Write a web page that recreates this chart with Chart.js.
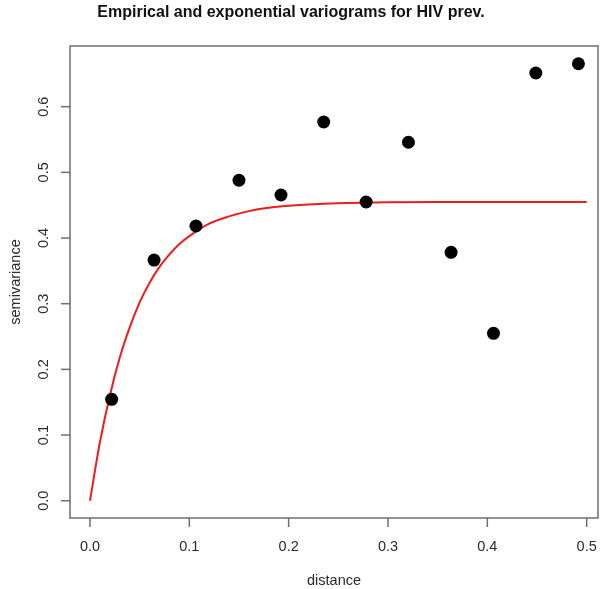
<!DOCTYPE html>
<html>
<head>
<meta charset="utf-8">
<script src="https://cdn.jsdelivr.net/npm/chart.js@4.4.0/dist/chart.umd.min.js"></script>
<style>
  html, body { margin: 0; padding: 0; background: #fff; }
  #wrap { width: 600px; height: 589px; }
</style>
</head>
<body>
<div id="wrap"><canvas id="chart" width="600" height="589"></canvas></div>
<script>
// empirical variogram (bin centres and semivariance)
const distances = [0.0218, 0.0645, 0.1067, 0.150, 0.1923, 0.2353, 0.278, 0.3206, 0.3635, 0.4062, 0.4488, 0.4917];
const semivariance = [0.1544, 0.3665, 0.4183, 0.488, 0.4655, 0.5767, 0.4549, 0.5458, 0.3782, 0.2549, 0.6513, 0.6654];

// fitted exponential model, sampled along the red curve
const modelDistance = [0, 0.01, 0.02, 0.03, 0.04, 0.05, 0.06, 0.07, 0.08, 0.09, 0.10, 0.12, 0.14, 0.16, 0.18, 0.20, 0.23, 0.26, 0.30, 0.35, 0.40, 0.50];
const modelGamma = [0, 0.089, 0.160, 0.218, 0.264, 0.302, 0.332, 0.356, 0.375, 0.391, 0.403, 0.422, 0.433, 0.441, 0.446, 0.449, 0.452, 0.4535, 0.4546, 0.455, 0.455, 0.455];

const xTicks = [0, 0.1, 0.2, 0.3, 0.4, 0.5];
const yTicks = [0, 0.1, 0.2, 0.3, 0.4, 0.5, 0.6];

const titleText = "Empirical and exponential variograms for HIV prev.";
const xTitle = "distance";
const yTitle = "semivariance";

const FONT = "'Liberation Sans', Arial, Helvetica, sans-serif";

// R-style box, ticks and labels
const rAxes = {
  id: "rAxes",
  afterDraw(chart) {
    const ctx = chart.ctx;
    const a = chart.chartArea;
    const xs = chart.scales.x;
    const ys = chart.scales.y;
    ctx.save();
    ctx.strokeStyle = "#6e6e6e";
    ctx.lineWidth = 1.5;
    ctx.strokeRect(a.left, a.top, a.right - a.left, a.bottom - a.top);

    ctx.fillStyle = "#2a2a2a";
    ctx.font = "14.5px " + FONT;
    ctx.textAlign = "center";
    ctx.textBaseline = "middle";
    xTicks.forEach((t) => {
      const px = xs.getPixelForValue(t);
      ctx.beginPath();
      ctx.moveTo(px, a.bottom);
      ctx.lineTo(px, a.bottom + 9);
      ctx.stroke();
      ctx.fillText(t.toFixed(1), px, 547);
    });
    yTicks.forEach((t) => {
      const py = ys.getPixelForValue(t);
      ctx.beginPath();
      ctx.moveTo(a.left, py);
      ctx.lineTo(a.left - 9, py);
      ctx.stroke();
      ctx.save();
      ctx.translate(44, py);
      ctx.rotate(-Math.PI / 2);
      ctx.fillText(t.toFixed(1), 0, 0);
      ctx.restore();
    });

    ctx.fillText(xTitle, (a.left + a.right) / 2, 581);
    ctx.save();
    ctx.translate(16, (a.top + a.bottom) / 2);
    ctx.rotate(-Math.PI / 2);
    ctx.fillText(yTitle, 0, 0);
    ctx.restore();

    ctx.fillStyle = "#111";
    ctx.font = "bold 16px " + FONT;
    ctx.fillText(titleText, 291, 13);
    ctx.restore();
  }
};

new Chart(document.getElementById("chart"), {
  type: "scatter",
  data: {
    datasets: [
      {
        label: "exponential model",
        data: modelDistance.map((d, i) => ({ x: d, y: modelGamma[i] })),
        showLine: true,
        borderColor: "#ee1c1c",
        borderWidth: 2,
        pointRadius: 0,
        cubicInterpolationMode: "monotone",
        order: 2
      },
      {
        label: "empirical",
        data: distances.map((d, i) => ({ x: d, y: semivariance[i] })),
        backgroundColor: "#000",
        borderColor: "#000",
        pointRadius: 6.5,
        pointBorderWidth: 0,
        order: 1
      }
    ]
  },
  options: {
    responsive: false,
    devicePixelRatio: 1,
    animation: false,
    layout: { autoPadding: false, padding: { left: 70, right: 2, top: 46, bottom: 71 } },
    plugins: {
      legend: { display: false },
      tooltip: { enabled: false },
      title: { display: false }
    },
    scales: {
      x: { type: "linear", min: -0.0201, max: 0.5114, display: false },
      y: { type: "linear", min: -0.0263, max: 0.6924, display: false }
    }
  },
  plugins: [rAxes]
});
</script>
</body>
</html>
